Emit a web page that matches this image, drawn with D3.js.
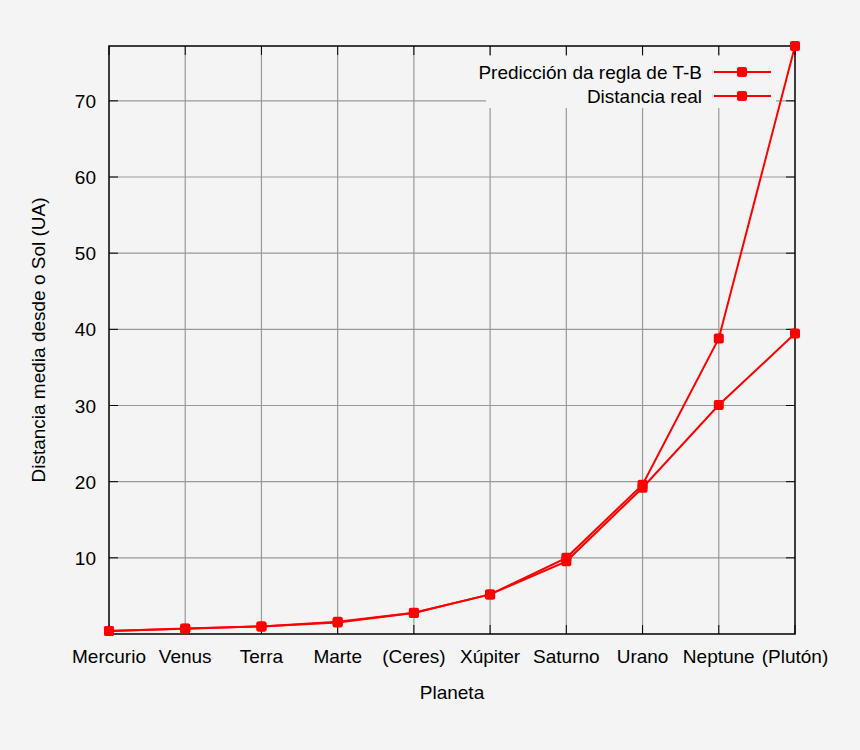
<!DOCTYPE html><html><head><meta charset="utf-8"><script src="https://cdn.jsdelivr.net/npm/d3@7"></script>
<style>body{margin:0;background:#f4f4f4}text{font-family:"Liberation Sans",Arial,sans-serif;fill:#000}</style></head><body>
<svg id="c" width="860" height="750"></svg>
<script>
const planets=["Mercurio","Venus","Terra","Marte","(Ceres)","Xúpiter","Saturno","Urano","Neptune","(Plutón)"];
const predicted=[0.4,0.7,1.0,1.6,2.8,5.2,10.0,19.6,38.8,77.2];
const real=[0.39,0.72,1.0,1.52,2.77,5.2,9.54,19.2,30.06,39.44];
const yTicks=[10,20,30,40,50,60,70];
const seriesNames=["Predicción da regla de T-B","Distancia real"];
const svg=d3.select("#c");
svg.append("rect").attr("width",860).attr("height",750).attr("fill","#f4f4f4");
const L=109,R=795,T=46,B=634;
const x=d3.scalePoint().domain(planets).range([L,R]);
const y=d3.scaleLinear().domain([0,77.2]).range([B,T]);
const g=svg.append("g");
g.selectAll(".vg").data(planets.slice(1,-1)).join("line").attr("x1",d=>x(d)).attr("x2",d=>x(d)).attr("y1",T).attr("y2",B).attr("stroke","#999").attr("stroke-width",1.2);
g.selectAll(".hg").data(yTicks).join("line").attr("x1",L).attr("x2",R).attr("y1",d=>y(d)).attr("y2",d=>y(d)).attr("stroke","#999").attr("stroke-width",1.2);
g.append("rect").attr("x",486).attr("y",56).attr("width",290).attr("height",52).attr("fill","#f4f4f4");
const ax=svg.append("g").attr("stroke","#000");
ax.append("rect").attr("x",L).attr("y",T).attr("width",R-L).attr("height",B-T).attr("fill","none").attr("stroke-width",1.5);
planets.forEach(p=>{ax.append("line").attr("x1",x(p)).attr("x2",x(p)).attr("y1",B).attr("y2",B-9);ax.append("line").attr("x1",x(p)).attr("x2",x(p)).attr("y1",T).attr("y2",T+9);});
yTicks.forEach(t=>{ax.append("line").attr("x1",L).attr("x2",L+9).attr("y1",y(t)).attr("y2",y(t));ax.append("line").attr("x1",R).attr("x2",R-9).attr("y1",y(t)).attr("y2",y(t));});
const fs=19;
svg.selectAll(".xl").data(planets).join("text").attr("x",d=>x(d)).attr("y",663).attr("text-anchor","middle").attr("font-size",fs).text(d=>d);
svg.selectAll(".yl").data(yTicks).join("text").attr("x",L-13).attr("y",d=>y(d)+7).attr("text-anchor","end").attr("font-size",fs).text(d=>d);
svg.append("text").attr("x",452).attr("y",699).attr("text-anchor","middle").attr("font-size",fs).text("Planeta");
svg.append("text").attr("transform","translate(45,340) rotate(-90)").attr("text-anchor","middle").attr("font-size",fs).text("Distancia media desde o Sol (UA)");
const line=d3.line().x((d,i)=>x(planets[i])).y(d=>y(d));
[predicted,real].forEach(s=>{
 svg.append("path").attr("d",line(s)).attr("fill","none").attr("stroke","#f00").attr("stroke-width",2);
 svg.selectAll(null).data(s).join("rect").attr("x",(d,i)=>x(planets[i])-5).attr("y",d=>y(d)-5).attr("width",10).attr("height",10).attr("rx",2).attr("fill","#f00");
});
seriesNames.forEach((n,i)=>{
 const ly=72+i*24;
 svg.append("text").attr("x",702).attr("y",ly+7).attr("text-anchor","end").attr("font-size",fs).text(n);
 svg.append("line").attr("x1",714).attr("x2",771).attr("y1",ly).attr("y2",ly).attr("stroke","#f00").attr("stroke-width",2);
 svg.append("rect").attr("x",737).attr("y",ly-5).attr("width",10).attr("height",10).attr("rx",2).attr("fill","#f00");
});
</script></body></html>
